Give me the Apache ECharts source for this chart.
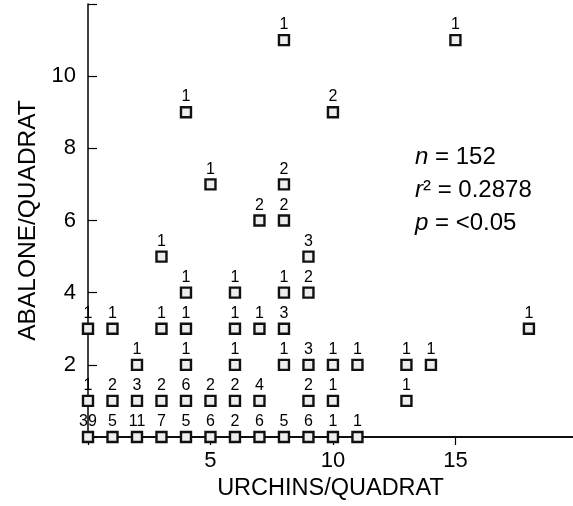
<!DOCTYPE html>
<html>
<head>
<meta charset="utf-8">
<script src="https://cdn.jsdelivr.net/npm/echarts@6/dist/echarts.min.js"></script>
<style>
html,body{margin:0;padding:0;background:#fff;}
#chart{width:573px;height:506px;}
</style>
</head>
<body>
<div id="chart"></div>
<script>
// Urchins per quadrat (x), abalone per quadrat (y), number of quadrats at that point (label)
const urchins = [0,1,2,3,4,5,6,7,8,9,10,11,
                 0,1,2,3,4,5,6,7,9,10,13,
                 2,4,6,8,9,10,11,13,14,
                 0,1,3,4,6,7,8,18,
                 4,6,8,9,
                 3,9,
                 7,8,
                 5,8,
                 4,10,
                 8,15];
const abalone = [0,0,0,0,0,0,0,0,0,0,0,0,
                 1,1,1,1,1,1,1,1,1,1,1,
                 2,2,2,2,2,2,2,2,2,
                 3,3,3,3,3,3,3,3,
                 4,4,4,4,
                 5,5,
                 6,6,
                 7,7,
                 9,9,
                 11,11];
const counts = [39,5,11,7,5,6,2,6,5,6,1,1,
                1,2,3,2,6,2,2,4,2,1,1,
                1,1,1,1,3,1,1,1,1,
                1,1,1,1,1,1,3,1,
                1,1,1,2,
                1,3,
                2,2,
                1,2,
                1,2,
                1,1];
const xTicks = [5,10,15];
const yTicks = [2,4,6,8,10];
const statN = '152';
const statR2 = '0.2878';
const statP = '<0.05';

const FONT = '"Liberation Sans", Arial, Helvetica, sans-serif';
const data = urchins.map((x,i)=>[x, abalone[i], counts[i]]);

const chart = echarts.init(document.getElementById('chart'));
chart.setOption({
  animation:false,
  backgroundColor:'#fff',
  grid:{left:88, right:0, top:4, bottom:69, containLabel:false},
  xAxis:[{
    type:'value', min:0, max:19.8, interval:5,
    name:'URCHINS/QUADRAT', nameLocation:'middle', nameGap:29,
    nameTextStyle:{fontFamily:FONT, fontSize:23.5, color:'#000'},
    axisLine:{show:true, onZero:false, lineStyle:{color:'#000', width:1.5}},
    axisTick:{show:true, inside:false, length:8, lineStyle:{color:'#000', width:1.2}},
    axisLabel:{fontFamily:FONT, fontSize:22, color:'#000', margin:13, showMaxLabel:false,
      formatter:v=> xTicks.includes(v) ? String(v) : ''},
    splitLine:{show:false}
  },{
    type:'value', position:'top', min:0, max:19.8,
    axisLine:{show:true, lineStyle:{color:'#000', width:1.5}},
    axisTick:{show:false}, axisLabel:{show:false}, splitLine:{show:false}
  }],
  yAxis:{
    type:'value', min:0, max:12, interval:2,
    name:'ABALONE/QUADRAT', nameLocation:'middle', nameGap:47,
    nameTextStyle:{fontFamily:FONT, fontSize:24.5, color:'#000'},
    axisLine:{show:true, onZero:false, lineStyle:{color:'#000', width:1.5}},
    axisTick:{show:true, inside:true, length:9, lineStyle:{color:'#000', width:1.2}},
    axisLabel:{fontFamily:FONT, fontSize:22, color:'#000', margin:12,
      formatter:v=> yTicks.includes(v) ? String(v) : ''},
    splitLine:{show:false}
  },
  series:[{
    type:'scatter',
    xAxisIndex:0,
    data:data,
    symbol:'rect',
    symbolSize:10,
    itemStyle:{color:'#eeeeee', borderColor:'#111', borderWidth:2.4, opacity:1},
    label:{show:true, position:'top', distance:1,
      fontFamily:FONT, fontSize:16, color:'#000',
      formatter:p=>String(p.data[2])},
    z:5
  }],
  graphic:[
    {type:'text', left:415, top:145, style:{
      text:'{i|n} = '+statN,
      rich:{i:{fontStyle:'italic', fontFamily:FONT, fontSize:24, fill:'#000'}},
      font:'24px '+FONT, fill:'#000'}},
    {type:'text', left:415, top:178, style:{
      text:'{i|r}² = '+statR2,
      rich:{i:{fontStyle:'italic', fontFamily:FONT, fontSize:24, fill:'#000'}},
      font:'24px '+FONT, fill:'#000'}},
    {type:'text', left:415, top:211, style:{
      text:'{i|p} = '+statP,
      rich:{i:{fontStyle:'italic', fontFamily:FONT, fontSize:24, fill:'#000'}},
      font:'24px '+FONT, fill:'#000'}}
  ]
});
</script>
</body>
</html>
